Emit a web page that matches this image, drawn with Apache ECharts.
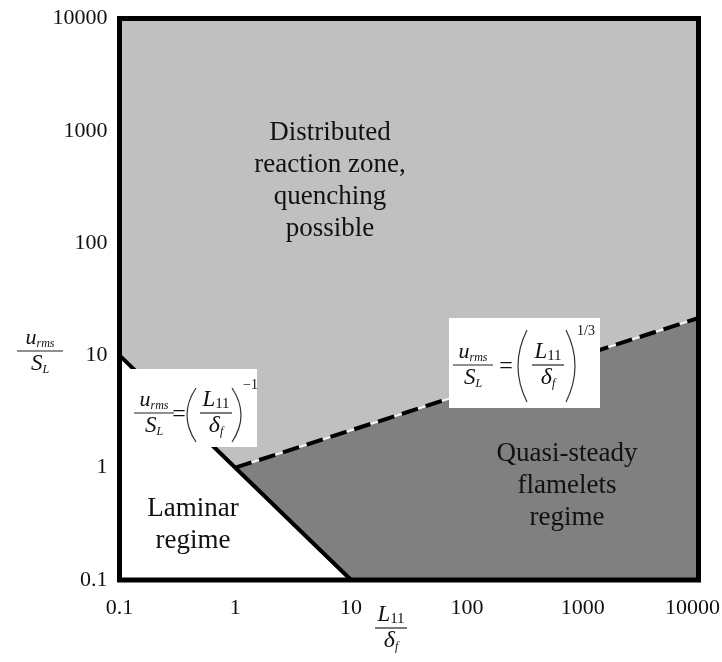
<!DOCTYPE html>
<html>
<head>
<meta charset="utf-8">
<script src="https://cdn.jsdelivr.net/npm/echarts@6/dist/echarts.min.js"></script>
<style>
  html, body { margin: 0; padding: 0; background: #fff; }
  #chart { width: 722px; height: 662px; }
</style>
</head>
<body>
<div id="chart"></div>
<script>
  // axis range (both axes are log10, 0.1 .. 10000)
  const axisRange = [0.1, 10000];
  const xTicks = [0.1, 1, 10, 100, 1000, 10000];
  const yTicks = [0.1, 1, 10, 100, 1000, 10000];

  // u/S = (L/d)^-1  : laminar boundary
  const laminarLine = [[0.1, 10], [1, 1], [10, 0.1]];
  // u/S = (L/d)^(1/3) : flamelet boundary
  const flameletLine = [[1, 1], [10000, 21.54]];

  // regions built from the boundaries
  const laminarRegion = [[0.1, 0.1]].concat(laminarLine);
  const flameletRegion = flameletLine.concat([[10000, 0.1], [10, 0.1]]);

  const SERIF = '"Liberation Serif", "DejaVu Serif", serif';
  const LIGHT = '#c0c0c0';
  const DARK = '#808080';

  const chart = echarts.init(document.getElementById('chart'));

  const polySeries = (pts, fill) => ({
    type: 'custom',
    silent: true,
    z: 1,
    data: pts,
    renderItem: (params, api) => {
      if (params.dataIndex !== 0) return;
      return {
        type: 'polygon',
        shape: { points: pts.map(p => api.coord(p)) },
        style: { fill: fill, stroke: null }
      };
    }
  });

  // rich text pieces for the math
  const R = {
    u: { fontFamily: SERIF, fontStyle: 'italic', fontSize: 22, lineHeight: 24, fill: '#111' },
    S: { fontFamily: SERIF, fontStyle: 'italic', fontSize: 23, lineHeight: 24, fill: '#111' },
    L: { fontFamily: SERIF, fontStyle: 'italic', fontSize: 23, lineHeight: 24, fill: '#111' },
    d: { fontFamily: SERIF, fontStyle: 'italic', fontSize: 24, lineHeight: 24, fill: '#111' },
    sub: { fontFamily: SERIF, fontStyle: 'italic', fontSize: 12, lineHeight: 12, verticalAlign: 'bottom', fill: '#111' },
    subr: { fontFamily: SERIF, fontSize: 15, lineHeight: 13, verticalAlign: 'bottom', fill: '#111' }
  };
  const URMS = '{u|u}{sub|rms}';
  const SL = '{S|S}{sub|L}';
  const L11 = '{L|L}{subr|11}';
  const DF = '{d|δ}{sub|f}';

  function t(x, y, text, align, va, extra) {
    return {
      type: 'text', x: x, y: y, z: 101, silent: true,
      style: Object.assign({ text: text, rich: R, align: align, verticalAlign: va,
        fill: '#111', fontFamily: SERIF, fontSize: 21 }, extra || {})
    };
  }
  function frac(cx, barY, w, num, den) {
    return [
      t(cx, barY - 1, num, 'center', 'bottom'),
      { type: 'line', z: 101, silent: true,
        shape: { x1: cx - w / 2, y1: barY, x2: cx + w / 2, y2: barY },
        style: { stroke: '#222', lineWidth: 1.2 } },
      t(cx, barY + 1, den, 'center', 'top')
    ];
  }
  function paren(x0, x1, top, bot, left) {
    const mid = (top + bot) / 2;
    const cp = left ? 2 * x0 - x1 : 2 * x1 - x0;
    const end = left ? x1 : x0;
    return { type: 'bezierCurve', z: 101, silent: true,
      shape: { x1: end, y1: top, x2: end, y2: bot, cpx1: cp, cpy1: mid },
      style: { stroke: '#333', lineWidth: 1.2, fill: null } };
  }
  function eq(box, barY, lc, rc, eqX, p1, p2, pTop, pBot, sup, supX, supY) {
    return [
      { type: 'rect', z: 100, silent: true,
        shape: { x: box[0], y: box[1], width: box[2], height: box[3] },
        style: { fill: '#fff' } }
    ].concat(frac(lc, barY, 40, URMS, SL))
     .concat([t(eqX, barY + 2, '=', 'center', 'middle', { fontSize: 24 })])
     .concat([paren(p1, p1 + 9, pTop, pBot, true)])
     .concat(frac(rc, barY, 32, L11, DF))
     .concat([paren(p2, p2 + 9, pTop, pBot, false)])
     .concat([t(supX, supY, sup, 'left', 'middle', { fontSize: 14 })]);
  }

  const graphics = []
    .concat(eq([122, 369, 135, 78], 413, 154, 216, 179, 187, 232, 388, 442, '−1', 243, 385))
    .concat(eq([449, 318, 151, 90], 365, 473, 548, 506, 518, 566, 330, 402, '1/3', 577, 331))
    // axis titles
    .concat(frac(40, 351, 46, URMS, SL))
    .concat(frac(391, 628, 32, L11, DF))
    // region labels
    .concat([
      t(330, 181, 'Distributed\nreaction zone,\nquenching\npossible', 'center', 'middle', { fontSize: 27, lineHeight: 32 }),
      t(567, 486, 'Quasi-steady\nflamelets\nregime', 'center', 'middle', { fontSize: 27, lineHeight: 32 }),
      t(193, 525, 'Laminar\nregime', 'center', 'middle', { fontSize: 27, lineHeight: 32 })
    ]);

  const fmt = v => String(Number(Number(v).toPrecision(6)));

  const option = {
    animation: false,
    grid: {
      left: 119.5, right: 23.5, top: 18.5, bottom: 82,
      show: true, backgroundColor: LIGHT, borderWidth: 0,
      outerBoundsMode: 'none'
    },
    xAxis: {
      type: 'log', logBase: 10, min: xTicks[0], max: xTicks[xTicks.length - 1],
      axisLine: { show: false }, axisTick: { show: false }, splitLine: { show: false },
      axisLabel: {
        fontFamily: SERIF, fontSize: 22, color: '#111', margin: 17,
        formatter: v => (Number(v) >= xTicks[xTicks.length - 1] ? '{m|' + fmt(v) + '}' : fmt(v)),
        rich: { m: { fontFamily: SERIF, fontSize: 22, color: '#111', padding: [0, 12, 0, 0] } }
      }
    },
    yAxis: {
      type: 'log', logBase: 10, min: yTicks[0], max: yTicks[yTicks.length - 1],
      axisLine: { show: false }, axisTick: { show: false }, splitLine: { show: false },
      axisLabel: { fontFamily: SERIF, fontSize: 22, color: '#111', margin: 12, formatter: fmt }
    },
    series: [
      polySeries(flameletRegion, DARK),
      polySeries(laminarRegion, '#ffffff'),
      {
        type: 'line', data: flameletLine, symbol: 'none', silent: true, z: 3,
        lineStyle: { color: '#f4f4f4', width: 2 }
      },
      {
        type: 'line', data: flameletLine, symbol: 'none', silent: true, z: 4,
        lineStyle: { color: '#000', width: 4, type: [17, 8] }
      },
      {
        type: 'line', data: laminarLine, symbol: 'none', silent: true, z: 5,
        lineStyle: { color: '#000', width: 4 }
      },
      {
        type: 'custom', silent: true, z: 10,
        data: [[axisRange[0], axisRange[0]]],
        renderItem: (params, api) => {
          const a = api.coord([axisRange[0], axisRange[1]]);
          const b = api.coord([axisRange[1], axisRange[0]]);
          return {
            type: 'rect',
            shape: { x: a[0], y: a[1], width: b[0] - a[0], height: b[1] - a[1] },
            style: { fill: null, stroke: '#000', lineWidth: 5 }
          };
        }
      }
    ],
    graphic: { elements: graphics }
  };

  chart.setOption(option);
</script>
</body>
</html>
